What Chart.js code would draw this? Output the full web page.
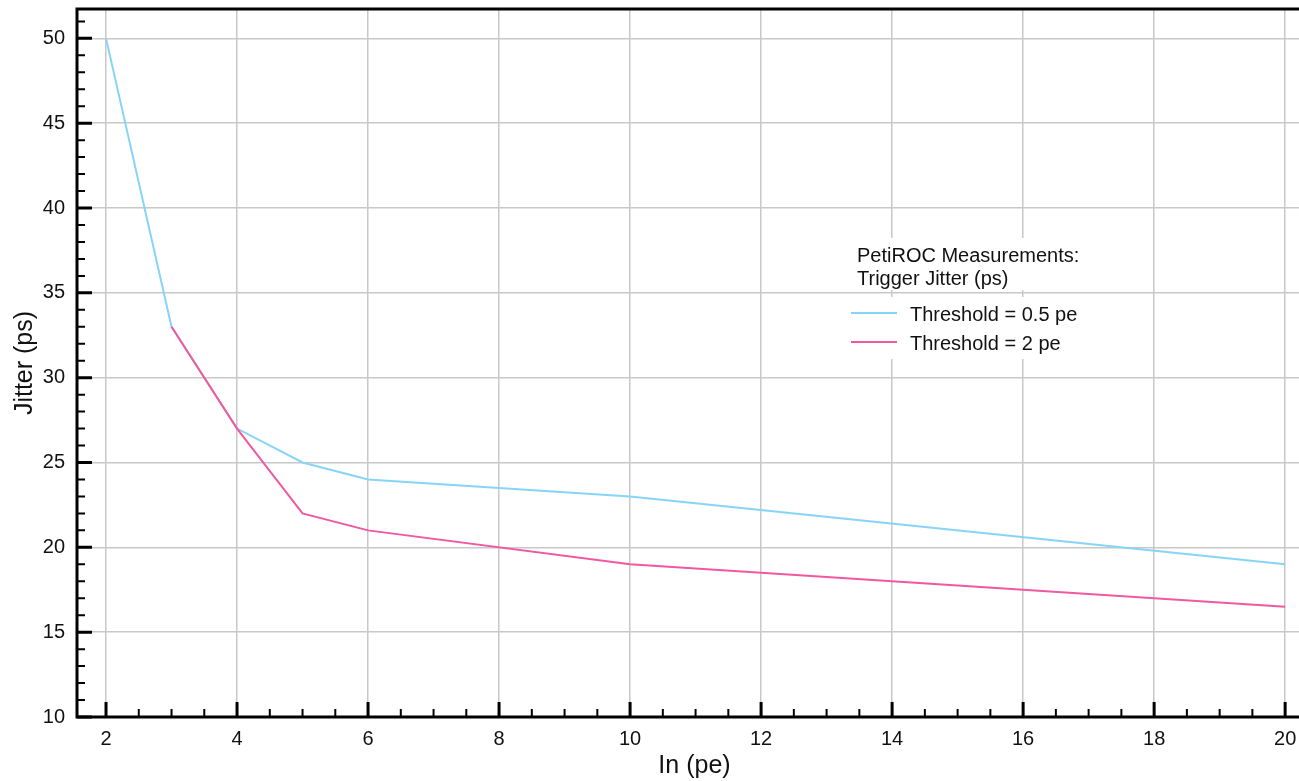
<!DOCTYPE html>
<html lang="en">
<head>
    <meta charset="UTF-8">
    <title>PetiROC Trigger Jitter</title>
    <script src="https://cdn.jsdelivr.net/npm/chart.js"></script>
    <style>
        html, body { margin: 0; padding: 0; background: #fff; overflow: hidden; }
        .chart-box { width: 1312px; height: 781px; position: relative; }
    </style>
</head>
<body>
    <div class="chart-box">
        <canvas id="jitterChart"></canvas>
    </div>

    <script>
        // Values
        const xTicks = [2, 4, 6, 8, 10, 12, 14, 16, 18, 20];
        const yTicks = [10, 15, 20, 25, 30, 35, 40, 45, 50];

        const lowThrX = [2, 3, 4, 5, 6, 10, 20];
        const lowThrY = [50, 33, 27, 25, 24, 23, 19];

        const highThrX = [3, 4, 5, 6, 10, 20];
        const highThrY = [33, 27, 22, 21, 19, 16.5];

        const seriesNames = ['Threshold = 0.5 pe', 'Threshold = 2 pe'];
        const legendTitle = ['PetiROC Measurements:', 'Trigger Jitter (ps)'];

        const FONT = '"Liberation Sans", Arial, sans-serif';

        function toPoints(xs, ys) {
            return xs.map((x, i) => ({ x: x, y: ys[i] }));
        }

        // Frame, inward tick marks (major + minor) and the legend box
        const framePlugin = {
            id: 'frame',
            afterDatasetsDraw(chart) {
                const ctx = chart.ctx;
                const area = chart.chartArea;
                const xs = chart.scales.x;
                const ys = chart.scales.y;
                ctx.save();
                ctx.strokeStyle = '#000';
                ctx.lineCap = 'butt';

                // minor ticks
                ctx.lineWidth = 2;
                ctx.beginPath();
                for (let v = 2; v <= xs.max; v += 0.5) {
                    if (v % 2 === 0) continue;
                    const px = xs.getPixelForValue(v);
                    ctx.moveTo(px, area.bottom);
                    ctx.lineTo(px, area.bottom - 8);
                }
                for (let v = 11; v <= ys.max; v += 1) {
                    if (v % 5 === 0) continue;
                    const py = ys.getPixelForValue(v);
                    ctx.moveTo(area.left, py);
                    ctx.lineTo(area.left + 8, py);
                }
                ctx.stroke();

                // major ticks
                ctx.lineWidth = 3;
                ctx.beginPath();
                xTicks.forEach(v => {
                    const px = xs.getPixelForValue(v);
                    ctx.moveTo(px, area.bottom);
                    ctx.lineTo(px, area.bottom - 15);
                });
                yTicks.forEach(v => {
                    const py = ys.getPixelForValue(v);
                    ctx.moveTo(area.left, py);
                    ctx.lineTo(area.left + 15, py);
                });
                ctx.stroke();

                // axes + top border
                ctx.lineWidth = 3;
                ctx.beginPath();
                ctx.moveTo(area.right, area.top);
                ctx.lineTo(area.left, area.top);
                ctx.lineTo(area.left, area.bottom);
                ctx.lineTo(area.right, area.bottom);
                ctx.stroke();
                ctx.restore();
            },
            afterDraw(chart) {
                const ctx = chart.ctx;
                ctx.save();
                ctx.fillStyle = '#fff';
                ctx.fillRect(845, 238, 255, 52);
                ctx.fillRect(845, 297, 255, 62);

                ctx.fillStyle = '#111';
                ctx.font = '20px ' + FONT;
                ctx.textBaseline = 'alphabetic';
                ctx.textAlign = 'left';
                ctx.fillText(legendTitle[0], 857, 262);
                ctx.fillText(legendTitle[1], 857, 285);

                chart.data.datasets.forEach((ds, i) => {
                    const y = 313 + i * 29;
                    ctx.strokeStyle = ds.borderColor;
                    ctx.lineWidth = 2;
                    ctx.beginPath();
                    ctx.moveTo(851, y);
                    ctx.lineTo(897, y);
                    ctx.stroke();
                    ctx.fillText(ds.label, 910, y + 8);
                });
                ctx.restore();
            }
        };

        const ctx = document.getElementById('jitterChart').getContext('2d');
        new Chart(ctx, {
            type: 'line',
            data: {
                datasets: [
                    {
                        label: seriesNames[0],
                        data: toPoints(lowThrX, lowThrY),
                        borderColor: 'rgb(135, 212, 248)',
                        borderWidth: 2,
                        pointRadius: 0,
                        tension: 0,
                        fill: false,
                        order: 1
                    },
                    {
                        label: seriesNames[1],
                        data: toPoints(highThrX, highThrY),
                        borderColor: 'rgb(240, 88, 160)',
                        borderWidth: 2,
                        pointRadius: 0,
                        tension: 0,
                        fill: false,
                        order: 0
                    }
                ]
            },
            options: {
                responsive: true,
                maintainAspectRatio: false,
                animation: false,
                layout: { padding: { top: 9, left: 0, right: 0, bottom: 0 } },
                plugins: {
                    legend: { display: false },
                    tooltip: { enabled: false }
                },
                scales: {
                    x: {
                        type: 'linear',
                        min: 1.557,
                        max: 20.41,
                        afterBuildTicks: scale => { scale.ticks = xTicks.map(v => ({ value: v })); },
                        afterFit: scale => {
                            scale.height = 64;
                            scale.paddingLeft = 0;
                            scale.paddingRight = 0;
                        },
                        grid: { color: '#c8c8c8', lineWidth: 1.5, drawTicks: false },
                        border: { display: false },
                        ticks: {
                            padding: 10,
                            maxRotation: 0,
                            autoSkip: false,
                            color: '#111',
                            font: { family: FONT, size: 20 }
                        },
                        title: {
                            display: true,
                            text: 'In (pe)',
                            color: '#111',
                            font: { family: FONT, size: 25 },
                            padding: { top: 0, bottom: 0 }
                        }
                    },
                    y: {
                        type: 'linear',
                        min: 10,
                        max: 51.73,
                        afterBuildTicks: scale => { scale.ticks = yTicks.map(v => ({ value: v })); },
                        afterFit: scale => {
                            scale.width = 77;
                            scale.paddingTop = 0;
                            scale.paddingBottom = 0;
                        },
                        grid: { color: '#c8c8c8', lineWidth: 1.5, drawTicks: false },
                        border: { display: false },
                        ticks: {
                            padding: 12,
                            color: '#111',
                            font: { family: FONT, size: 20 }
                        },
                        title: {
                            display: true,
                            text: 'Jitter (ps)',
                            color: '#111',
                            font: { family: FONT, size: 25 },
                            padding: { top: 10, bottom: 0 }
                        }
                    }
                }
            },
            plugins: [framePlugin]
        });
    </script>
</body>
</html>
